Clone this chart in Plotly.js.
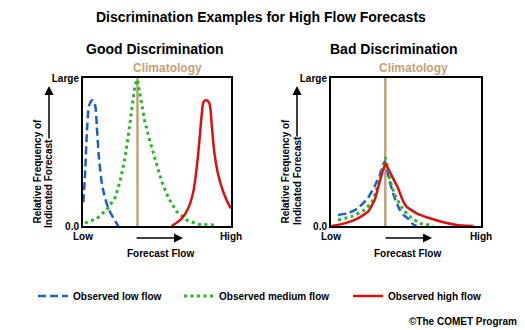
<!DOCTYPE html>
<html><head><meta charset="utf-8">
<script src="https://cdn.plot.ly/plotly-3.0.1.min.js"></script>
<style>html,body{margin:0;padding:0;background:#fff;} #chart{width:525px;height:330px;}</style>
</head><body><div id="chart"></div>
<script>
// ---- Data (x: 0 = Low, 10 = High forecast flow; y: 0 = 0.0, 1 = Large) ----
const tickFlowVals = [0, 10];
const tickFlowText = ['Low', 'High'];
const tickFreqVals = [0, 1];
const tickFreqText = ['0.0', 'Large'];

const seriesNames = ['Observed low flow', 'Observed medium flow', 'Observed high flow'];

// Good discrimination
const goodClim = 3.68;
const goodLowX = [0.02, 0.135, 0.29, 0.43, 0.655, 0.83, 0.93, 1.08, 1.33, 1.71, 2.05, 2.39];
const goodLowY = [0.16, 0.345, 0.68, 0.82, 0.85, 0.81, 0.68, 0.46, 0.257, 0.12, 0.054, 0.0];
const goodMedX = [0.135, 0.93, 1.6, 2.16, 2.5, 2.84, 3.06, 3.29, 3.51, 3.67, 3.85, 4.19, 4.53, 4.98, 5.32, 5.77, 6.33, 7.0, 7.79, 8.92];
const goodMedY = [0.02, 0.05, 0.11, 0.19, 0.30, 0.46, 0.61, 0.80, 0.95, 0.99, 0.885, 0.70, 0.57, 0.41, 0.30, 0.19, 0.097, 0.04, 0.011, 0.007];
const goodHighX = [5.99, 6.67, 7.11, 7.45, 7.68, 7.86, 8.02, 8.15, 8.36, 8.54, 8.7, 8.87, 9.14, 9.48, 9.93, 10.0];
const goodHighY = [0.0, 0.05, 0.12, 0.23, 0.39, 0.57, 0.75, 0.84, 0.85, 0.83, 0.68, 0.50, 0.345, 0.23, 0.13, 0.12];

// Bad discrimination
const badClim = 3.62;
const badLowX = [0.47, 1.13, 1.8, 2.47, 2.91, 3.25, 3.58, 3.91, 4.24, 4.58, 4.82, 5.13, 5.49, 5.7];
const badLowY = [0.074, 0.086, 0.12, 0.19, 0.27, 0.345, 0.435, 0.30, 0.19, 0.11, 0.075, 0.05, 0.01, 0.0];
const badMedX = [0.47, 1.35, 2.25, 2.8, 3.13, 3.4, 3.62, 3.91, 4.25, 4.69, 4.82, 5.27, 5.93, 6.82];
const badMedY = [0.04, 0.063, 0.11, 0.175, 0.28, 0.37, 0.46, 0.32, 0.21, 0.13, 0.11, 0.063, 0.018, 0.002];
const badHighX = [0.02, 0.91, 1.8, 2.47, 2.91, 3.25, 3.62, 4.02, 4.47, 4.8, 5.05, 5.71, 6.6, 7.49, 8.38, 9.49];
const badHighY = [0.0, 0.018, 0.052, 0.097, 0.175, 0.30, 0.42, 0.345, 0.255, 0.17, 0.13, 0.086, 0.052, 0.025, 0.007, 0.0];

// ---- Styles ----
const FONT = "Arial, 'Liberation Sans', Helvetica, sans-serif";
const BLUE = '#1c5fcc', GREEN = '#25b825', RED = '#dd1010', TAN = '#c6a07a';
const lowLine = {color: BLUE, width: 2.5, dash: '8px,4px'};
const medLine = {color: GREEN, width: 3, dash: '3px,3.5px'};
const highLine = {color: RED, width: 2.5, dash: 'solid'};
const smooth = (base, s) => Object.assign({shape: 'spline', smoothing: s}, base);

function climTrace(xa, ya, c) {
  return {x: [c, c], y: [0, 1], xaxis: xa, yaxis: ya, mode: 'lines',
          line: {color: TAN, width: 2.5}, showlegend: false, hoverinfo: 'skip'};
}
const traces = [
  climTrace('x', 'y', goodClim),
  climTrace('x2', 'y2', badClim),
  {x: badLowX, y: badLowY, xaxis: 'x2', yaxis: 'y2', mode: 'lines', line: smooth(lowLine, 0.4), showlegend: false},
  {x: badMedX, y: badMedY, xaxis: 'x2', yaxis: 'y2', mode: 'lines', line: smooth(medLine, 0.4), showlegend: false},
  {x: badHighX, y: badHighY, xaxis: 'x2', yaxis: 'y2', mode: 'lines', line: smooth(highLine, 0.4), showlegend: false},
  {x: goodLowX, y: goodLowY, xaxis: 'x', yaxis: 'y', mode: 'lines', name: seriesNames[0],
   line: smooth(lowLine, 0.8), legend: 'legend'},
  {x: goodMedX, y: goodMedY, xaxis: 'x', yaxis: 'y', mode: 'lines', name: seriesNames[1],
   line: medLine, legend: 'legend2'},
  {x: goodHighX, y: goodHighY, xaxis: 'x', yaxis: 'y', mode: 'lines', name: seriesNames[2],
   line: smooth(highLine, 0.8), legend: 'legend3'}
];

const W = 525, H = 330;
const px = v => v / W, py = v => 1 - v / H;
const boldFont = (s, c) => ({family: FONT, size: s, color: c || '#000', weight: 'bold'});

function xAxis(d0, d1, anchor) {
  return {domain: [px(d0), px(d1)], range: [0, 10], anchor: anchor, showline: true, mirror: true,
          linewidth: 2, linecolor: '#000', showgrid: false, zeroline: false, ticks: '',
          tickvals: tickFlowVals, ticktext: tickFlowText, tickfont: boldFont(10), fixedrange: true};
}
function yAxis(anchor) {
  return {domain: [py(226), py(78)], range: [0, 1], anchor: anchor, showline: true, mirror: true,
          linewidth: 2, linecolor: '#000', showgrid: false, zeroline: false, ticks: '',
          tickvals: tickFreqVals, ticktext: tickFreqText, tickfont: boldFont(10), fixedrange: true};
}

function txt(text, x, y, size, opts) {
  return Object.assign({text: text, xref: 'paper', yref: 'paper', x: px(x), y: py(y),
    xanchor: 'center', yanchor: 'middle', showarrow: false, font: boldFont(size)}, opts || {});
}
function arrow(x, y, ax, ay) {
  return {text: '', xref: 'paper', yref: 'paper', x: px(x), y: py(y), ax: ax, ay: ay,
          showarrow: true, arrowhead: 2, arrowsize: 1.2, arrowwidth: 1.5, arrowcolor: '#000'};
}

const annotations = [
  txt('Discrimination Examples for High Flow Forecasts', 261, 17, 14),
  txt('Good Discrimination', 155, 49, 14),
  txt('Bad Discrimination', 394, 49, 14),
  txt('Climatology', 167, 68, 12, {font: boldFont(12, TAN)}),
  txt('Climatology', 413, 68, 12, {font: boldFont(12, TAN)}),
  txt('Forecast Flow', 160, 253, 10),
  txt('Forecast Flow', 407, 253, 10),
  txt('Relative Frequency of', 37, 171.5, 10, {textangle: -90}),
  txt('Indicated Forecast', 48, 184, 10, {textangle: -90}),
  txt('Relative Frequency of', 285, 171.5, 10, {textangle: -90}),
  txt('Indicated Forecast', 297, 181, 10, {textangle: -90}),
  txt('©The COMET Program', 519, 321, 10, {xanchor: 'right'}),
  arrow(183, 238, -48, 0),
  arrow(432, 238, -48, 0),
  arrow(49, 86, 0, 54),
  arrow(297, 86, 0, 52)
];

function legendAt(x) {
  return {x: px(x), y: py(296), xanchor: 'left', yanchor: 'middle', orientation: 'h',
          bgcolor: 'rgba(0,0,0,0)', borderwidth: 0, font: boldFont(10)};
}

const layout = {
  width: W, height: H, margin: {l: 0, r: 0, t: 0, b: 0},
  paper_bgcolor: '#fff', plot_bgcolor: '#fff',
  font: {family: FONT, size: 10, color: '#000'},
  xaxis: xAxis(83, 231, 'y'), yaxis: yAxis('x'),
  xaxis2: xAxis(331, 481, 'y2'), yaxis2: yAxis('x2'),
  annotations: annotations,
  showlegend: true,
  legend: legendAt(33), legend2: legendAt(179), legend3: legendAt(348)
};

Plotly.newPlot('chart', traces, layout, {staticPlot: true, displayModeBar: false});
</script></body></html>
